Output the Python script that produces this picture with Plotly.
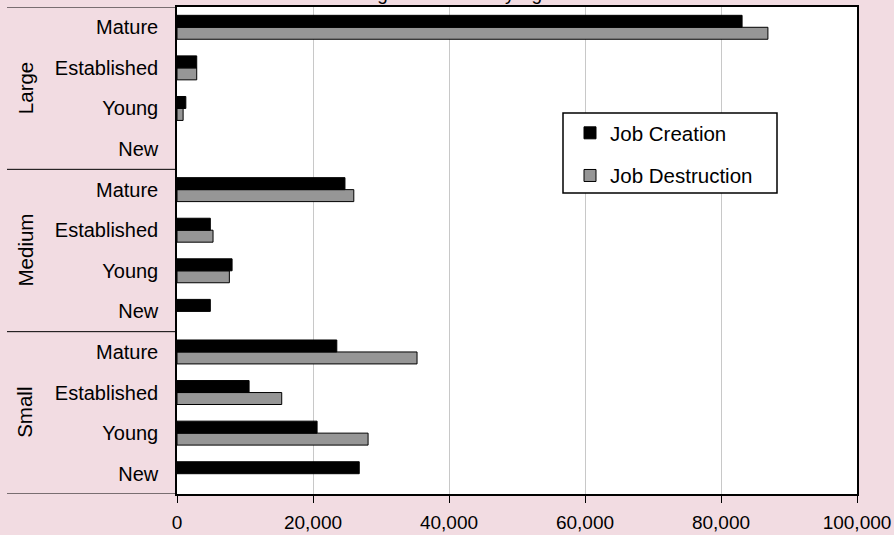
import plotly.graph_objects as go

# Data
groups = ["Large", "Medium", "Small"]
ages = ["Mature", "Established", "Young", "New"]
# Order: top to bottom
row_labels = ["Mature", "Established", "Young", "New",
              "Mature", "Established", "Young", "New",
              "Mature", "Established", "Young", "New"]
job_creation = [83100, 2900, 1300, None,
                24700, 4900, 8100, 4900,
                23500, 10600, 20600, 26800]
job_destruction = [86900, 2900, 900, None,
                   26000, 5300, 7700, None,
                   35300, 15400, 28100, None]
x_ticks = [0, 20000, 40000, 60000, 80000, 100000]
x_tick_text = ["0", "20,000", "40,000", "60,000", "80,000", "100,000"]
title_text = "Average Job Flows by Age"

n = len(row_labels)
ypos = [n - 1 - i for i in range(n)]  # top row gets highest value

FONT = "Liberation Sans, Arial, sans-serif"
BG = "#F2DCE2"

fig = go.Figure()
fig.add_trace(go.Bar(
    y=ypos, x=job_destruction, orientation="h", name="Job Destruction",
    marker=dict(color="#969696", line=dict(color="#000000", width=1)),
    legendgroup="d", legendrank=2,
))
fig.add_trace(go.Bar(
    y=ypos, x=job_creation, orientation="h", name="Job Creation",
    marker=dict(color="#000000", line=dict(color="#000000", width=1)),
    legendgroup="c", legendrank=1,
))

L, R, T, B = 177, 37, 7, 41
W, H = 894, 535
pw = W - L - R
ph = H - T - B

def px_x(p):
    return (p - L) / pw

def px_y(p):
    return 1 - (p - T) / ph

shapes = []
# horizontal separators in the label area (top, between groups, bottom)
for yb in [n - 0.5, 7.5, 3.5, -0.5]:
    shapes.append(dict(type="line", xref="paper", yref="y",
                       x0=px_x(7), x1=0, y0=yb, y1=yb,
                       line=dict(color="#000000", width=1)))
# legend box
shapes.append(dict(type="rect", xref="paper", yref="paper",
                   x0=px_x(563), x1=px_x(777), y0=px_y(193), y1=px_y(113),
                   fillcolor="#FFFFFF", line=dict(color="#000000", width=1.5),
                   layer="above"))

annotations = []
for gi, g in enumerate(groups):
    center = n - 1 - (gi * 4 + 1.5)
    annotations.append(dict(text=g, xref="paper", yref="y",
                            x=px_x(25), y=center, textangle=-90,
                            showarrow=False, xanchor="center", yanchor="middle",
                            font=dict(family=FONT, size=20.5, color="#000000")))
# chart title, mostly cut off at the top edge as in the original
annotations.append(dict(text=title_text, xref="paper", yref="paper",
                        x=px_x(440), y=px_y(5), xanchor="center", yanchor="bottom",
                        showarrow=False, borderpad=0,
                        font=dict(family=FONT, size=19, color="#000000")))

fig.update_layout(
    width=W, height=H,
    margin=dict(l=L, r=R, t=T, b=B, pad=0, autoexpand=False),
    paper_bgcolor=BG, plot_bgcolor="#FFFFFF",
    barmode="group", bargap=0.41, bargroupgap=0,
    font=dict(family=FONT, size=19, color="#000000"),
    xaxis=dict(range=[0, 100000], tickvals=x_ticks, ticktext=x_tick_text,
               showgrid=True, gridcolor="#C8C8C8", gridwidth=1,
               ticks="outside", ticklen=7, tickcolor="#000000",
               showline=True, linecolor="#000000", linewidth=1.5, mirror=True,
               zeroline=False, ticklabelstandoff=3, automargin=False,
               tickfont=dict(family=FONT, size=19, color="#000000")),
    yaxis=dict(range=[-0.5, n - 0.5], tickvals=ypos, ticktext=row_labels,
               showgrid=False, zeroline=False, ticks="",
               showline=True, linecolor="#000000", linewidth=1.5, mirror=True,
               ticklabelstandoff=13, automargin=False,
               tickfont=dict(family=FONT, size=20, color="#000000")),
    legend=dict(x=px_x(570), y=px_y(113), xanchor="left", yanchor="top",
                bgcolor="rgba(0,0,0,0)", borderwidth=0,
                font=dict(family=FONT, size=20.5, color="#000000"),
                tracegroupgap=13, itemwidth=30),
    shapes=shapes, annotations=annotations,
    showlegend=True,
)

fig.write_html("out.html")
